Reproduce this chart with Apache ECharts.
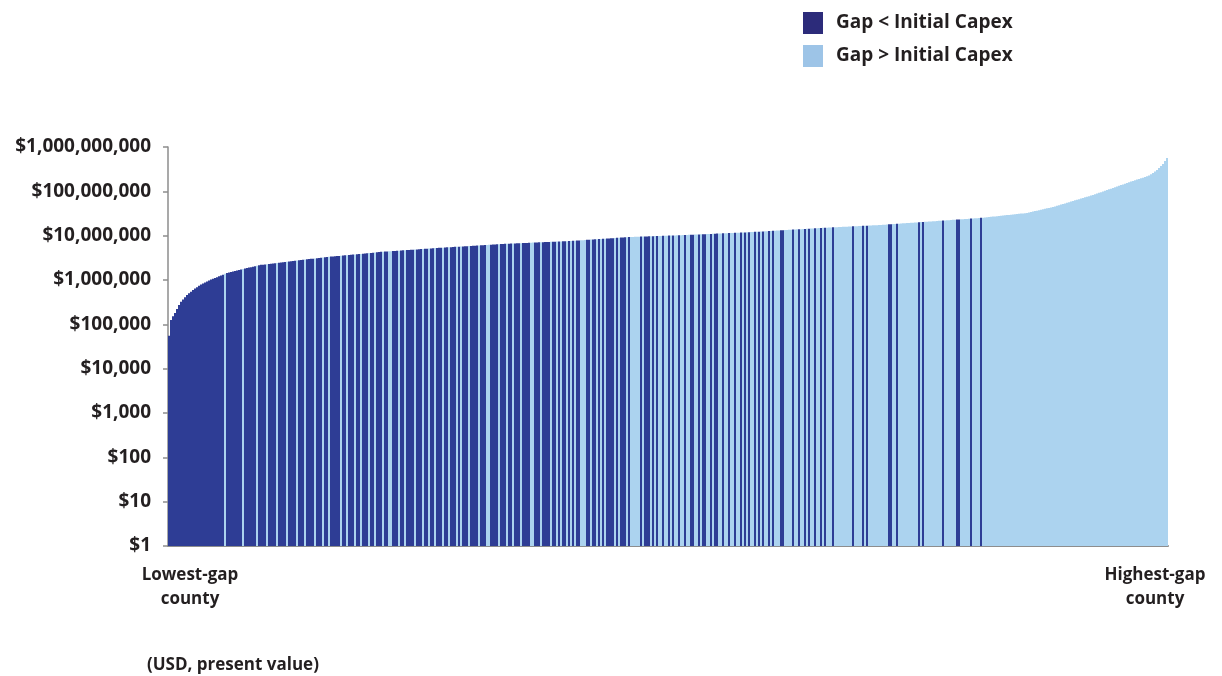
<!DOCTYPE html>
<html>
<head>
<meta charset="utf-8">
<script src="https://cdn.jsdelivr.net/npm/echarts@6/dist/echarts.min.js"></script>
<style>
html,body{margin:0;padding:0;background:#ffffff;}
#chart{width:1222px;height:676px;}
</style>
</head>
<body>
<div id="chart"></div>
<script>
// Legend / series names
const seriesNames = ['Gap < Initial Capex', 'Gap > Initial Capex'];

// End labels of the x axis
const xEndLabels = ['Lowest-gap\ncounty', 'Highest-gap\ncounty'];
const unitNote = '(USD, present value)';

// Gap per county (sorted lowest to highest), in thousands of USD
const gapThousandUSD = [
  55, 125, 153, 180, 222, 273, 322, 362, 408, 459,
  501, 546, 596, 641, 690, 745, 793, 835, 879, 925,
  975, 1020, 1070, 1110, 1160, 1210, 1270, 1320, 1380, 1440,
  1480, 1520, 1560, 1600, 1640, 1680, 1730, 1770, 1820, 1860,
  1910, 1950, 2000, 2050, 2100, 2160, 2200, 2220, 2250, 2280,
  2310, 2340, 2370, 2400, 2430, 2460, 2490, 2520, 2550, 2590,
  2620, 2650, 2690, 2720, 2750, 2790, 2820, 2860, 2890, 2920,
  2960, 3000, 3030, 3070, 3110, 3150, 3180, 3220, 3270, 3300,
  3330, 3370, 3400, 3430, 3470, 3500, 3530, 3570, 3600, 3630,
  3660, 3700, 3740, 3780, 3810, 3850, 3880, 3930, 3960, 4010,
  4050, 4090, 4130, 4180, 4220, 4270, 4310, 4340, 4370, 4400,
  4430, 4460, 4500, 4530, 4560, 4590, 4620, 4660, 4700, 4730,
  4760, 4800, 4830, 4860, 4900, 4940, 4980, 5010, 5050, 5080,
  5120, 5160, 5200, 5240, 5270, 5310, 5350, 5370, 5410, 5450,
  5480, 5510, 5550, 5590, 5620, 5650, 5690, 5730, 5770, 5790,
  5830, 5880, 5920, 5940, 5980, 6030, 6070, 6100, 6140, 6180,
  6220, 6250, 6300, 6340, 6380, 6410, 6460, 6500, 6530, 6560,
  6590, 6620, 6650, 6680, 6710, 6750, 6780, 6810, 6840, 6870,
  6900, 6930, 6970, 7000, 7030, 7060, 7100, 7130, 7160, 7190,
  7230, 7260, 7300, 7330, 7360, 7400, 7430, 7460, 7500, 7530,
  7570, 7610, 7670, 7720, 7770, 7830, 7880, 7930, 7990, 8050,
  8100, 8160, 8210, 8270, 8330, 8390, 8440, 8500, 8560, 8620,
  8680, 8740, 8800, 8860, 8920, 8990, 9050, 9110, 9180, 9240,
  9300, 9350, 9390, 9420, 9460, 9490, 9530, 9560, 9600, 9630,
  9670, 9700, 9740, 9780, 9810, 9850, 9880, 9920, 9960, 10000,
  10030, 10070, 10110, 10140, 10180, 10220, 10260, 10300, 10340, 10380,
  10420, 10470, 10520, 10570, 10620, 10670, 10720, 10770, 10810, 10860,
  10910, 10970, 11020, 11070, 11120, 11170, 11220, 11270, 11320, 11380,
  11430, 11480, 11540, 11590, 11640, 11700, 11750, 11800, 11860, 11910,
  11970, 12020, 12110, 12180, 12260, 12330, 12410, 12490, 12560, 12640,
  12720, 12800, 12880, 12960, 13040, 13120, 13200, 13280, 13370, 13450,
  13530, 13610, 13700, 13790, 13870, 13950, 14040, 14130, 14220, 14310,
  14400, 14490, 14570, 14660, 14750, 14850, 14930, 15010, 15090, 15170,
  15250, 15330, 15410, 15490, 15570, 15650, 15730, 15820, 15900, 15980,
  16060, 16150, 16230, 16320, 16400, 16490, 16570, 16660, 16750, 16840,
  16920, 17010, 17100, 17190, 17280, 17370, 17480, 17610, 17740, 17870,
  18000, 18130, 18270, 18400, 18530, 18660, 18800, 18940, 19080, 19220,
  19360, 19500, 19640, 19780, 19930, 20070, 20220, 20370, 20520, 20670,
  20820, 20970, 21130, 21280, 21440, 21590, 21750, 21910, 22070, 22230,
  22390, 22550, 22720, 22880, 23050, 23220, 23390, 23560, 23730, 23910,
  24080, 24250, 24430, 24610, 24790, 24970, 25200, 25480, 25760, 26050,
  26340, 26630, 26930, 27230, 27530, 27840, 28150, 28460, 28770, 29090,
  29420, 29750, 30080, 30410, 30750, 31090, 31440, 31790, 32140, 32510,
  33300, 34100, 34930, 35780, 36640, 37520, 38430, 39370, 40320, 41300,
  42300, 43320, 44360, 45770, 47220, 48720, 50260, 51860, 53500, 55200,
  56940, 58750, 60610, 62530, 64510, 66560, 68660, 70840, 73080, 75400,
  77780, 80250, 82790, 85900, 89130, 92470, 95940, 99540, 103300, 107200,
  110900, 115100, 119400, 123900, 128500, 133400, 138400, 143500, 148900, 154500,
  160200, 166000, 172000, 178000, 184000, 190000, 197000, 203000, 211000, 219000,
  228000, 243000, 260000, 279000, 303000, 337000, 373000, 414000, 484000, 566000
];

// Class of each county, same order: D = gap < initial capex, L = gap > initial capex
const gapClassRows = [
  'DDDDDDDDDDDDDDDDDDDDDDDDDDDDLDDDDDDDDLDDDDDDLDDDDL',
  'DDDDLDDDDLDDDDLDDDLDDDDLDDDLDDLDDDDDLDDLDDDLDDLDDD',
  'LDDLDDDLDDLLDDDLDDLDDDDLDDDLDDLDDLDDDLDDLDDDLDLDDD',
  'LDDDDLDDDLLDDDDLDDDLDDLDDDLDDDDLLDDDLDDDDLDDLDLDDL',
  'DLDLDDLLLDDLDDLDLDLDDDDLDLDDDLDLLLLLDLDDDLDLDLLDLL',
  'DLDLLDLLDLLDDLLDLDDLLDLDDLLDLLDLLDLLDLDLDLLDLDLDLL',
  'DLDLLLDDLLLLDLLDLLDLDLLDLLDLDLLLDLLLLLLLLLDLLLLDLD',
  'LLLLLLLLLLDDLLDLLLLLLLLLLDLDLLLLLLLLLDLLLLLLDDLLLL',
  'LDLLLLDLLLLLLLLLLLLLLLLLLLLLLLLLLLLLLLLLLLLLLLLLLL',
  'LLLLLLLLLLLLLLLLLLLLLLLLLLLLLLLLLLLLLLLLLLLLLLLLLL'
];

const barColors = ['#2e3d95', '#acd3ef'];
const legendColors = ['#2c2b7a', '#9dc4e7'];
const textColor = '#231f20';
const fontFamily = '"Open Sans", Lato, "DejaVu Sans", sans-serif';

const gapClass = gapClassRows.join('').split('');
const categories = gapThousandUSD.map((v, i) => String(i + 1));
const lowerData = gapThousandUSD.map((v, i) => (gapClass[i] === 'D' ? v * 1000 : '-'));
const higherData = gapThousandUSD.map((v, i) => (gapClass[i] !== 'D' ? v * 1000 : '-'));

const chart = echarts.init(document.getElementById('chart'), null, {renderer: 'canvas'});

const option = {
  animation: false,
  backgroundColor: '#ffffff',
  grid: {left: 168, right: 54, top: 147, bottom: 130, containLabel: false},
  legend: {
    orient: 'vertical',
    left: 803,
    top: 12,
    padding: 0,
    itemWidth: 20,
    itemHeight: 22,
    itemGap: 11,
    icon: 'rect',
    selectedMode: false,
    textStyle: {color: textColor, fontSize: 19, fontWeight: 'bold', fontFamily: fontFamily, padding: [0, 0, 0, 8]},
    data: [
      {name: seriesNames[0], itemStyle: {color: legendColors[0]}},
      {name: seriesNames[1], itemStyle: {color: legendColors[1]}}
    ]
  },
  xAxis: {
    type: 'category',
    data: categories,
    boundaryGap: true,
    axisLine: {show: true, lineStyle: {color: '#8d8d8d', width: 2}},
    axisTick: {show: false},
    axisLabel: {show: false},
    splitLine: {show: false}
  },
  yAxis: {
    type: 'log',
    logBase: 10,
    min: 1,
    max: 1000000000,
    interval: 1,
    axisLine: {show: true, lineStyle: {color: '#8d8d8d', width: 1.5}},
    axisTick: {show: true, length: 5, lineStyle: {color: '#8d8d8d', width: 1.5}},
    splitLine: {show: false},
    axisLabel: {
      margin: 17,
      color: textColor,
      fontSize: 19,
      fontWeight: 'bold',
      fontFamily: fontFamily,
      formatter: v => '$' + Math.round(v).toLocaleString('en-US')
    }
  },
  series: [
    {
      name: seriesNames[0],
      type: 'bar',
      data: lowerData,
      barWidth: '100%',
      barGap: '-100%',
      barCategoryGap: 0,
      itemStyle: {color: barColors[0], borderWidth: 0},
      emphasis: {disabled: true},
      z: 2
    },
    {
      name: seriesNames[1],
      type: 'bar',
      data: higherData,
      barWidth: '100%',
      barGap: '-100%',
      barCategoryGap: 0,
      itemStyle: {color: barColors[1], borderWidth: 0},
      emphasis: {disabled: true},
      z: 2
    }
  ],
  graphic: [
    {
      type: 'text',
      style: {text: xEndLabels[0], x: 190, y: 563, align: 'center', verticalAlign: 'top',
        fill: textColor, font: 'bold 17px ' + fontFamily, lineHeight: 24}
    },
    {
      type: 'text',
      style: {text: xEndLabels[1], x: 1155, y: 563, align: 'center', verticalAlign: 'top',
        fill: textColor, font: 'bold 17px ' + fontFamily, lineHeight: 24}
    },
    {
      type: 'text',
      style: {text: unitNote, x: 147, y: 657, align: 'left', verticalAlign: 'top',
        fill: textColor, font: 'bold 17px ' + fontFamily}
    }
  ]
};

chart.setOption(option);
</script>
</body>
</html>
